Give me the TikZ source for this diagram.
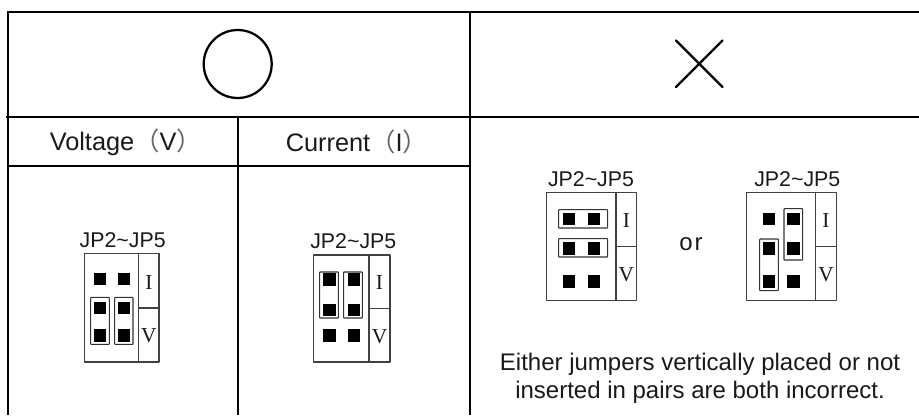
\documentclass[tikz,border=0pt]{standalone}
\usepackage{fontspec}
\setmainfont{Liberation Sans}
\newfontfamily\serifletters{Liberation Serif}
\newfontfamily\cjkparen{Noto Sans CJK SC}
\newcount\pincount
\tikzset{
 x=0.75pt,y=-0.75pt,
 tableline/.style={line width=1.5pt,black},
 markline/.style={line width=1.7pt,black},
 boardline/.style={line width=0.8pt,black!75,line join=round},
 jumperline/.style={line width=0.8pt,black!80,rounded corners=0.4pt},
 pinsq/.style={fill=black,draw=none,minimum size=9.3pt,inner sep=0pt,outer sep=0pt},
 headtext/.style={font=\fontsize{19pt}{20pt}\selectfont,inner sep=0pt,anchor=west,text=black!90},
 jptext/.style={font=\fontsize{16pt}{18pt}\selectfont,inner sep=0pt,anchor=center,text=black!90},
 ortext/.style={font=\fontsize{18pt}{18pt}\selectfont,inner sep=0pt,anchor=center,text=black!90},
 notetext/.style={font=\fontsize{18pt}{21pt}\selectfont,inner sep=0pt,anchor=center,align=center,text=black!90},
 ivtext/.style={font=\serifletters\fontsize{16pt}{17pt}\selectfont,inner sep=0pt,anchor=center,text=black!90},
}
\newcommand{\lp}{{\cjkparen\color{black!60}（}}
\newcommand{\rp}{{\cjkparen\color{black!60}）}}
% name, left, top, right, bottom, divider x, middle y, text centre x
\newcommand{\board}[8]{%
  \draw[boardline] (#2,#3) rectangle (#4,#5);
  \draw[boardline] (#6,#3) -- (#6,#5);
  \draw[boardline] (#6,#7) -- (#4,#7);
  \node[jptext] (#1t) at (#8,{#3-13.5}) {JP2\char`~JP5};
  \node[ivtext] (#1i) at ({(#6+#4)/2},{#7-25.7}) {I};
  \node[ivtext] (#1v) at ({(#6+#4)/2},{#7+28}) {V};
}
\newcommand{\pin}[2]{\global\advance\pincount by 1 \node[pinsq] (pin\the\pincount) at (#1,#2) {};}
\newcommand{\jump}[4]{\draw[jumperline] (#1,#2) rectangle (#3,#4);}
\begin{document}
\begin{tikzpicture}
\useasboundingbox (0,0) rectangle (919,415);
% table
\draw[tableline] (6.5,12) -- (919,12);
\draw[tableline] (6,117) -- (919,117);
\draw[tableline] (7.5,165.7) -- (470,165.7);
\draw[tableline] (7.5,12) -- (7.5,415);
\draw[tableline] (238,117) -- (238,415);
\draw[tableline] (470,12) -- (470,415);
% marks
\draw[markline] (237.7,64) circle (34);
\draw[markline,line cap=round] (676,40.5) -- (722.5,87);
\draw[markline,line cap=round] (722.5,40.5) -- (676,87);
% headers
\node[headtext] (volt) at (49.5,142) {Voltage\lp V\rp};
\node[headtext] (curr) at (285.5,142) {Current\lp I\rp};
% correct, voltage
\board{a}{84.3}{253.3}{159}{362}{138.7}{308}{122.7}
\foreach \px in {100,123.7}{\foreach \py in {279,307.7,335.3}{\pin{\px}{\py}}}
\jump{90.7}{297.3}{109.3}{344.3}
\jump{114.7}{297.3}{133}{344.3}
% correct, current
\board{b}{313.3}{255}{390}{362}{369}{308.3}{353.3}
\foreach \px in {329.3,353.7}{\foreach \py in {279.3,310,335.3}{\pin{\px}{\py}}}
\jump{319.7}{272}{338.3}{318}
\jump{343.7}{272}{362.3}{318}
% incorrect, left
\board{c}{546.7}{192.7}{636.7}{300.7}{616}{246.7}{591}
\foreach \px in {569,593.7}{\foreach \py in {218.7,248.3,281.3}{\pin{\px}{\py}}}
\jump{558.7}{209.7}{607.7}{228}
\jump{558.7}{238.7}{607.7}{257}
\node[ortext] (ortext) at (691,244) {o\kern1.5pt r};
% incorrect, right
\board{d}{746.7}{192.7}{836.3}{300.7}{815.7}{246.7}{797.3}
\foreach \px in {769,793.3}{\foreach \py in {218.7,248.3,281.3}{\pin{\px}{\py}}}
\jump{784}{208.7}{802.7}{260}
\jump{759.7}{239}{778.3}{290.7}
% note
\node[notetext] (note) at (700,378) {Either jumpers vertically placed or not\\inserted in pairs are both incorrect.};
\end{tikzpicture}
\end{document}
